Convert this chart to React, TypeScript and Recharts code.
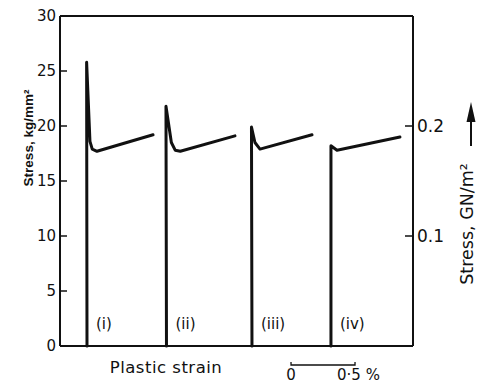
import { LineChart, Line, XAxis, YAxis, ReferenceLine } from 'recharts'

// stress axis ticks (kg/mm², left) and the SI equivalent (GN/m², right)
const kgTicks = [0, 5, 10, 15, 20, 25, 30]
const gnTicks = [0.1, 0.2]
// the "0 — 0·5 %" scale bar under the plot, in strain %
const scaleBarTicks = [1.805, 2.305]
const curveNames = ['(i)', '(ii)', '(iii)', '(iv)']

// plastic strain (%) vs stress (kg/mm²)
const curveI = [
  { strain: 0.211, stress: 0 },
  { strain: 0.208, stress: 25.8 },
  { strain: 0.234, stress: 18.6 },
  { strain: 0.252, stress: 17.9 },
  { strain: 0.289, stress: 17.7 },
  { strain: 0.727, stress: 19.2 },
]
const curveII = [
  { strain: 0.832, stress: 0 },
  { strain: 0.828, stress: 21.8 },
  { strain: 0.87, stress: 18.5 },
  { strain: 0.9, stress: 17.8 },
  { strain: 0.94, stress: 17.7 },
  { strain: 1.367, stress: 19.1 },
]
const curveIII = [
  { strain: 1.5, stress: 0 },
  { strain: 1.496, stress: 19.9 },
  { strain: 1.523, stress: 18.5 },
  { strain: 1.5625, stress: 17.9 },
  { strain: 1.969, stress: 19.2 },
]
const curveIV = [
  { strain: 2.117, stress: 0 },
  { strain: 2.117, stress: 18.2 },
  { strain: 2.164, stress: 17.8 },
  { strain: 2.656, stress: 19.0 },
]
const curves = [curveI, curveII, curveIII, curveIV]

const X_MAX = 2.758
const PLOT_W = 353
const INK = '#111'
const FONT = '"DejaVu Sans", sans-serif'

const KgTick = ({ x, y, payload }: any) => (
  <g>
    <line x1={x} x2={x + 7} y1={y} y2={y} stroke={INK} strokeWidth={1.5} />
    <text x={x - 4} y={y} textAnchor="end" dominantBaseline="central"
      fontSize={15} fill={INK} fontFamily={FONT}>{payload.value}</text>
  </g>
)

const GnTick = ({ x, y, payload }: any) => (
  <g>
    <line x1={x - 8} x2={x} y1={y} y2={y} stroke={INK} strokeWidth={1.5} />
    <text x={x + 4} y={y} dominantBaseline="central"
      fontSize={17} fill={INK} fontFamily={FONT}>{payload.value.toFixed(1)}</text>
  </g>
)

const ScaleTick = ({ x, y, index }: any) => {
  const bar = (0.5 * PLOT_W) / X_MAX
  return index === 0 ? (
    <g>
      <path d={`M${x},${y + 16} v3 h${bar} v-3`} fill="none" stroke={INK} strokeWidth={1.3} />
      <text x={x} y={y + 34} textAnchor="middle" fontSize={15} fill={INK} fontFamily={FONT}>0</text>
    </g>
  ) : (
    <text x={x - 18} y={y + 34} fontSize={15} fill={INK} fontFamily={FONT}>0·5 %</text>
  )
}

export default function App() {
  return (
    <div style={{ position: 'absolute', left: 0, top: 0, width: 484, height: 385, background: '#fff' }}>
      <LineChart width={484} height={385} margin={{ top: 16, right: 31, bottom: 0, left: 0 }}>
        <XAxis
          type="number" dataKey="strain" domain={[0, X_MAX]} ticks={scaleBarTicks}
          interval={0} height={39} tickSize={0} tickMargin={0} tickLine={false}
          axisLine={{ stroke: INK, strokeWidth: 2 }} tick={<ScaleTick />}
          label={{
            content: ({ viewBox }: any) => (
              <text x={viewBox.x + 106} y={viewBox.y + 27} textAnchor="middle"
                fontSize={16.5} fill={INK} fontFamily={FONT} letterSpacing={0.5}>Plastic strain</text>
            ),
          }}
        />
        <YAxis
          yAxisId="kg" domain={[0, 30]} ticks={kgTicks} width={60}
          tickSize={0} tickMargin={0} tickLine={false}
          axisLine={{ stroke: INK, strokeWidth: 2 }} tick={<KgTick />}
          label={{
            content: () => (
              <text x={33} y={138} transform="rotate(-90, 33, 138)" textAnchor="middle"
                fontSize={13.5} fontWeight="bold" fill={INK}
                fontFamily='"Liberation Sans", sans-serif'>Stress, kg/mm²</text>
            ),
          }}
        />
        <YAxis
          yAxisId="gn" orientation="right" domain={[0, 0.3]} ticks={gnTicks} width={40}
          allowDataOverflow tickSize={0} tickMargin={0} tickLine={false}
          axisLine={{ stroke: INK, strokeWidth: 2 }} tick={<GnTick />}
          label={{
            content: ({ viewBox }: any) => {
              const lx = viewBox.x + 60
              return (
                <g>
                  <text x={lx} y={224} transform={`rotate(-90, ${lx}, 224)`} textAnchor="middle"
                    fontSize={17.5} fill={INK} fontFamily={FONT}>Stress, GN/m²</text>
                  <line x1={lx - 2} x2={lx - 2} y1={146} y2={118} stroke={INK} strokeWidth={2} />
                  <path d={`M${lx - 2},102 L${lx - 6.5},122 L${lx + 2.5},122 Z`} fill={INK} />
                </g>
              )
            },
          }}
        />
        <ReferenceLine yAxisId="kg" y={30} stroke={INK} strokeWidth={2} />
        {curves.map((pts, i) => (
          <Line
            key={curveNames[i]} data={pts} dataKey="stress" yAxisId="kg" type="linear"
            stroke={INK} strokeWidth={3} strokeLinejoin="round" strokeLinecap="round"
            isAnimationActive={false} activeDot={false}
            dot={(p: any) =>
              p.index === 0 ? (
                <text key={p.index} x={p.cx + 9} y={p.cy - 17} fontSize={15}
                  fill={INK} fontFamily={FONT}>{curveNames[i]}</text>
              ) : <g key={p.index} />
            }
          />
        ))}
      </LineChart>
    </div>
  )
}
